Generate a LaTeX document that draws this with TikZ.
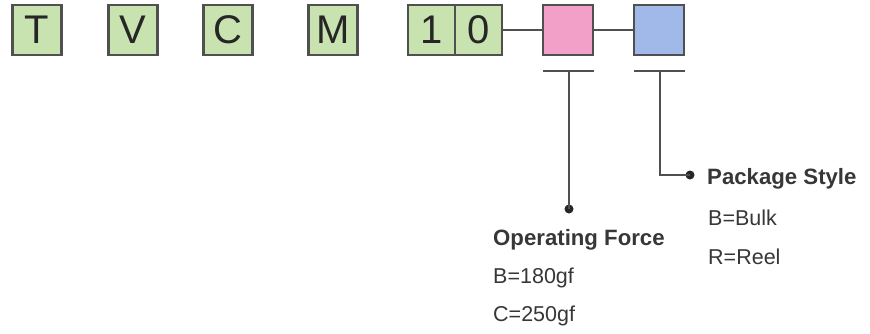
\documentclass[tikz,border=0pt]{standalone}
\usepackage{fontspec}
\setmainfont{Liberation Sans}
\definecolor{boxgreen}{RGB}{200,226,176}
\definecolor{boxpink}{RGB}{243,160,200}
\definecolor{boxblue}{RGB}{160,185,232}
\definecolor{edge}{RGB}{80,80,80}
\definecolor{txt}{RGB}{55,55,55}
\begin{document}
\begin{tikzpicture}[x=1pt,y=-1pt,
  letterbox/.style={draw=edge, line width=2.2pt, fill=boxgreen, minimum width=49pt, minimum height=50pt, inner sep=0pt,
    font=\fontsize{40}{40}\selectfont, text=black!85},
  codebox/.style={draw=edge, line width=2.2pt, minimum width=50pt, minimum height=50pt, inner sep=0pt},
  link/.style={draw=edge, line width=2pt},
  head/.style={anchor=west, inner sep=0pt, font=\fontsize{22.2}{22}\selectfont\bfseries, text=txt},
  item/.style={anchor=west, inner sep=0pt, font=\fontsize{21.5}{21}\selectfont, text=txt},
  dotmark/.style={circle, fill=black!85, inner sep=0pt, minimum size=9pt}]
\useasboundingbox (0,0) rectangle (870,333);
\node[letterbox] (t) at (37,30) {T};
\node[letterbox] (v) at (133,30) {V};
\node[letterbox] (c) at (228,30) {C};
\node[letterbox] (m) at (333,30) {M};
\node[letterbox, minimum width=47pt] (one) at (431.5,30) {1};
\node[letterbox, minimum width=47pt] (zero) at (478.5,30) {0};
\node[codebox, fill=boxpink] (pink) at (568,30) {};
\node[codebox, fill=boxblue] (blue) at (659,30) {};
\draw[link] (zero.east) -- (pink.west);
\draw[link] (pink.east) -- (blue.west);
% ticks
\coordinate (pl) at (543,71); \coordinate (pr) at (594,71); \coordinate (pc) at (569,71);
\coordinate (bl) at (634,71); \coordinate (br) at (685,71); \coordinate (bc) at (660,71);
\draw[link] (pl) -- (pr);
\draw[link] (bl) -- (br);
\node[dotmark] (fdot) at (569,209) {};
\node[dotmark] (sdot) at (690,175) {};
\draw[link] (pc) -- (fdot.center);
\draw[link] (bc) |- (sdot.center);
% labels
\node[head] (ps) at (707,179) {Package Style};
\node[item] (bb) at (708,218) {B=Bulk};
\node[item] (rr) at (708,257) {R=Reel};
\node[head] (of) at (493,240) {Operating Force};
\node[item] (b180) at (493,278) {B=180gf};
\node[item] (c250) at (493,316) {C=250gf};
\end{tikzpicture}
\end{document}
